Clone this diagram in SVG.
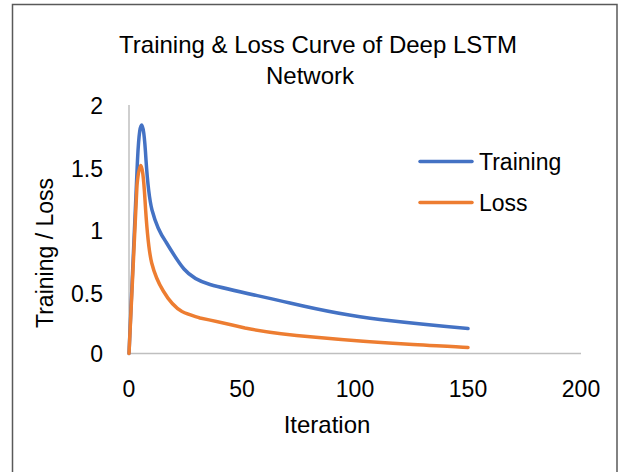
<svg xmlns="http://www.w3.org/2000/svg" width="618" height="472" viewBox="0 0 618 472">
  <style>
    text { font-family: "Liberation Sans", Arial, sans-serif; fill: #000; }
    .title { font-size: 24px; text-anchor: middle; }
    .tick { font-size: 23px; }
    .ytick { text-anchor: end; }
    .xtick { text-anchor: middle; }
    .axis-title { font-size: 23px; text-anchor: middle; }
    .axis { stroke: #bfbfbf; stroke-width: 1.5; fill: none; }
    .series { fill: none; stroke-width: 3.5; stroke-linejoin: round; stroke-linecap: round; }
    .training { stroke: #4472c4; }
    .loss { stroke: #ed7d31; }
  </style>

  <!-- chart frame -->
  <rect x="0" y="0" width="618" height="472" fill="#fff"/>
  <rect id="frame" x="12.5" y="4.5" width="604.5" height="480" fill="#fff" stroke="#595959" stroke-width="1.5"/>

  <!-- title -->
  <g id="title">
    <text class="title" x="318" y="53">Training &amp; Loss Curve of Deep LSTM</text>
    <text class="title" x="310" y="84">Network</text>
  </g>

  <!-- axes -->
  <g id="axes">
    <line class="axis" x1="129" y1="105" x2="129" y2="353.5"/>
    <line class="axis" x1="129" y1="353.5" x2="581" y2="353.5"/>
  </g>

  <!-- y tick labels -->
  <g id="y-ticks">
    <text class="tick ytick" x="103" y="114">2</text>
    <text class="tick ytick" x="103" y="177">1.5</text>
    <text class="tick ytick" x="103" y="239">1</text>
    <text class="tick ytick" x="103" y="302">0.5</text>
    <text class="tick ytick" x="103" y="362">0</text>
  </g>

  <!-- x tick labels -->
  <g id="x-ticks">
    <text class="tick xtick" x="129" y="397">0</text>
    <text class="tick xtick" x="242" y="397">50</text>
    <text class="tick xtick" x="355" y="397">100</text>
    <text class="tick xtick" x="468" y="397">150</text>
    <text class="tick xtick" x="581" y="397">200</text>
  </g>

  <!-- axis titles -->
  <g id="axis-titles">
    <text class="axis-title" x="327" y="433" style="font-size:24px">Iteration</text>
    <text class="axis-title" x="53" y="253" transform="rotate(-90 53 253)">Training / Loss</text>
  </g>

  <!-- data series -->
  <g id="series">
    <path id="training-curve" class="series training" d="M129,353.5 L137.5,160 C139,130 140.5,125 141.7,125 C143,125 144.5,135 146,160 C148,190 149.5,200 152,210 C156,225 161,235 166,242 C172,252 178,262 184,269 C190,276 198,281 210,284.5 C230,290 260,296 290,303 C320,310 350,316 380,319.5 C410,323 440,326 468,328.5"/>
    <path id="loss-curve" class="series loss" d="M129,353.5 L137,185 C138.5,170 139.8,165.5 140.7,165.5 C142,165.5 143.5,175 145,200 C146.5,225 148,248 151.7,263 C155,276 159,284 163.3,291 C168,299 174,307 182,311.5 C188,314.5 194,316 200,318 C215,321 228,324 245,328 C265,332 290,335 313,337 C345,340 380,342.7 413,344.5 C440,346 455,347 468,347.5"/>
  </g>

  <!-- legend -->
  <g id="legend">
    <line class="series training" x1="420" y1="161.5" x2="472" y2="161.5"/>
    <text class="tick" x="479" y="169.5">Training</text>
    <line class="series loss" x1="420" y1="202.5" x2="472" y2="202.5"/>
    <text class="tick" x="479" y="211">Loss</text>
  </g>
</svg>
